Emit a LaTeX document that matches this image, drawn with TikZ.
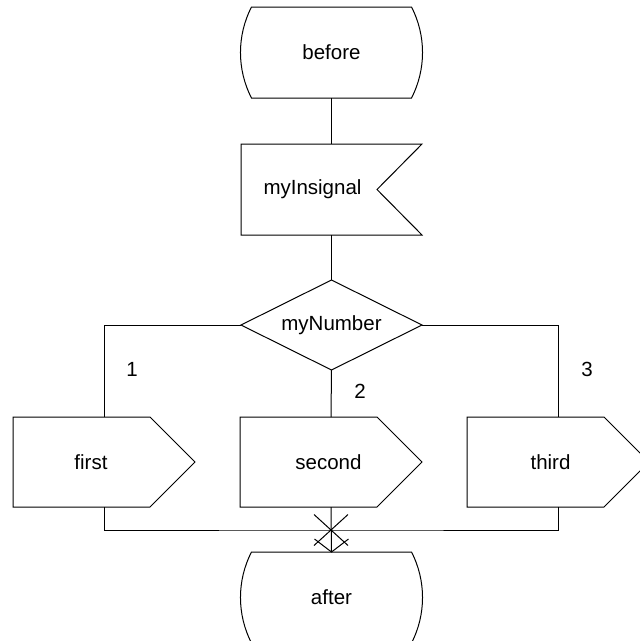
\documentclass[tikz,border=0pt]{standalone}
\usepackage{fontspec}
\setmainfont{Liberation Sans}
\newcommand\sdlstateoutline[1]{\draw[outline, shift={(#1.center)}] (-80,-45.5) -- (80,-45.5) .. controls (94.7,-17) and (94.7,17) .. (80,45.5) -- (-80,45.5) .. controls (-94.7,17) and (-94.7,-17) .. (-80,-45.5) -- cycle;}
\newcommand\sdloutoutline[1]{\draw[outline, shift={(#1.center)}] (-91,-45) -- (46,-45) -- (91,0) -- (46,45) -- (-91,45) -- cycle;}
\begin{document}
\begin{tikzpicture}[x=1pt,y=-1pt,
  txt/.style={font=\fontsize{20.5}{24}\selectfont},
  box/.style={draw=none, inner sep=0pt, outer sep=0pt, txt},
  lbl/.style={txt, inner sep=0pt},
  outline/.style={draw=black, line width=1pt, line join=miter},
  conn/.style={draw=black, line width=1pt}]
\useasboundingbox (0,0) rectangle (640,641);

% nodes
\node[box, minimum width=182pt, minimum height=91pt] (before) at (331.5,52.5) {before};
\node[box, minimum width=181pt, minimum height=91pt,
      label={[lbl, xshift=-19pt]center:myInsignal}] (insig) at (331.5,189.5) {};
\node[box, minimum width=181pt, minimum height=90pt] (dec) at (331.5,325) {myNumber};
\node[box, minimum width=182pt, minimum height=90pt,
      label={[lbl, xshift=-13pt]center:first}] (first) at (104,462) {};
\node[box, minimum width=182pt, minimum height=90pt,
      label={[lbl, xshift=-2.5pt]center:second}] (second) at (331,462) {};
\node[box, minimum width=182pt, minimum height=90pt,
      label={[lbl, xshift=-7.5pt]center:third}] (third) at (558,462) {};
\node[box, minimum width=182pt, minimum height=91pt] (after) at (331.5,597.5) {after};

\node[lbl] (c1) at (132,369) {1};
\node[lbl] (c2) at (360,391) {2};
\node[lbl] (c3) at (587,369) {3};

% outlines
\sdlstateoutline{before}
\sdlstateoutline{after}
\draw[outline, shift={(insig.center)}] (-90.5,-45.5) -- (90.5,-45.5) -- (45.5,0) -- (90.5,45.5) -- (-90.5,45.5) -- cycle;
\draw[outline] (dec.north) -- (dec.east) -- (dec.south) -- (dec.west) -- cycle;
\sdloutoutline{first}
\sdloutoutline{second}
\sdloutoutline{third}

% connectors
\draw[conn] (before.south) -- (insig.north);
\draw[conn] (insig.south) -- (dec.north);
\draw[conn] (dec.west) -| (first.north);
\draw[conn] (dec.east) -| (third.north);
\draw[conn] (dec.south) -- (second.north);
\coordinate (jn) at (331,530);
\draw[conn] (first.south) |- (jn) -| (third.south);
\draw[conn] (second.south) -- (after.north);
\draw[conn, line join=miter] (after.north) ++(-17,-13) -- (after.north) -- ++(17,-13);
\draw[conn] (jn) ++(-17,-15.5) -- ++(34,31) (jn) ++(17,-15.5) -- ++(-34,31);
\end{tikzpicture}
\end{document}
